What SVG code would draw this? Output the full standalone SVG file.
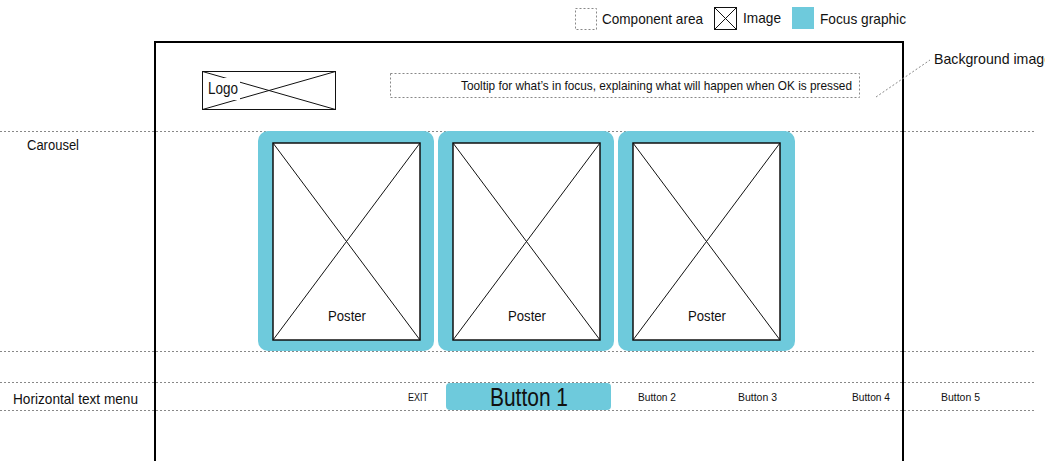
<svg xmlns="http://www.w3.org/2000/svg" width="1045" height="461" viewBox="0 0 1045 461">
<style>
text{font-family:"Liberation Sans",Arial,sans-serif;fill:#111}
.dot{fill:none;stroke:#888;stroke-width:1;stroke-dasharray:2,2}
.focus{fill:#6ECADC}
.img{fill:#fff;stroke:#111;stroke-width:1.5}
.x{stroke:#111;stroke-width:1}
.frame{fill:none;stroke:#000;stroke-width:2}
</style>
<rect x="0" y="0" width="1045" height="461" fill="#fff"/>
<g id="legend">
<rect x="575.5" y="8.5" width="21" height="21" class="dot"/>
<text x="602" y="24" font-size="15" textLength="101" lengthAdjust="spacingAndGlyphs">Component area</text>
<rect x="714.5" y="7.5" width="22" height="22" fill="#fff" stroke="#111" stroke-width="1"/>
<line x1="714.5" y1="7.5" x2="736.5" y2="29.5" class="x"/>
<line x1="736.5" y1="7.5" x2="714.5" y2="29.5" class="x"/>
<text x="743" y="23" font-size="15" textLength="38" lengthAdjust="spacingAndGlyphs">Image</text>
<rect x="792" y="7" width="22" height="22" class="focus"/>
<text x="820" y="24" font-size="15" textLength="86" lengthAdjust="spacingAndGlyphs">Focus graphic</text>
</g>
<g id="guides">
<line x1="0" y1="131.5" x2="1035" y2="131.5" class="dot"/>
<line x1="0" y1="351.5" x2="1035" y2="351.5" class="dot"/>
<line x1="0" y1="382.5" x2="1035" y2="382.5" class="dot"/>
<line x1="0" y1="410.5" x2="1035" y2="410.5" class="dot"/>
<text x="27" y="150" font-size="14" textLength="52" lengthAdjust="spacingAndGlyphs">Carousel</text>
<text x="13" y="404" font-size="15" textLength="125" lengthAdjust="spacingAndGlyphs">Horizontal text menu</text>
</g>
<g id="posters">
<rect x="258" y="131" width="176" height="220" rx="10" class="focus"/>
<rect x="438" y="131" width="176" height="220" rx="10" class="focus"/>
<rect x="618" y="131" width="177" height="220" rx="10" class="focus"/>
<g id="poster1">
<rect x="273" y="143" width="147" height="197" class="img"/>
<line x1="273" y1="143" x2="420" y2="340" class="x"/>
<line x1="420" y1="143" x2="273" y2="340" class="x"/>
<rect x="326" y="305" width="42" height="20" fill="#fff"/>
<text x="347" y="321" font-size="15" text-anchor="middle" textLength="38" lengthAdjust="spacingAndGlyphs">Poster</text>
</g>
<g id="poster2">
<rect x="453" y="143" width="147" height="197" class="img"/>
<line x1="453" y1="143" x2="600" y2="340" class="x"/>
<line x1="600" y1="143" x2="453" y2="340" class="x"/>
<rect x="506" y="305" width="42" height="20" fill="#fff"/>
<text x="527" y="321" font-size="15" text-anchor="middle" textLength="38" lengthAdjust="spacingAndGlyphs">Poster</text>
</g>
<g id="poster3">
<rect x="633" y="143" width="147" height="197" class="img"/>
<line x1="633" y1="143" x2="780" y2="340" class="x"/>
<line x1="780" y1="143" x2="633" y2="340" class="x"/>
<rect x="686" y="305" width="42" height="20" fill="#fff"/>
<text x="707" y="321" font-size="15" text-anchor="middle" textLength="38" lengthAdjust="spacingAndGlyphs">Poster</text>
</g>
</g>
<g id="frame">
<rect x="155" y="42" width="748" height="440" class="frame"/>
</g>
<g id="logo">
<rect x="202.5" y="71.5" width="133" height="38" fill="none" stroke="#111" stroke-width="1"/>
<line x1="202.5" y1="71.5" x2="335.5" y2="109.5" class="x"/>
<line x1="335.5" y1="71.5" x2="202.5" y2="109.5" class="x"/>
<rect x="206" y="78" width="34" height="22" fill="#fff"/>
<text x="208" y="94" font-size="16" textLength="30" lengthAdjust="spacingAndGlyphs">Logo</text>
</g>
<g id="tooltip">
<rect x="390.5" y="73.5" width="469" height="24" class="dot"/>
<text x="852" y="90" font-size="13" text-anchor="end" textLength="391" lengthAdjust="spacingAndGlyphs">Tooltip for what’s in focus, explaining what will happen when OK is pressed</text>
</g>
<g id="background-label">
<text x="934" y="64" font-size="15" textLength="118" lengthAdjust="spacingAndGlyphs">Background image</text>
</g>
<g id="connectors">
<line x1="876" y1="97" x2="930" y2="60" class="dot"/>
</g>
<g id="menu">
<text x="408" y="401" font-size="11" textLength="20" lengthAdjust="spacingAndGlyphs">EXIT</text>
<rect x="446" y="383" width="165" height="27" rx="4" class="focus"/>
<text x="490" y="406" font-size="25" textLength="78" lengthAdjust="spacingAndGlyphs">Button 1</text>
<text x="638" y="401" font-size="11" textLength="38" lengthAdjust="spacingAndGlyphs">Button 2</text>
<text x="738" y="401" font-size="11" textLength="39" lengthAdjust="spacingAndGlyphs">Button 3</text>
<text x="852" y="401" font-size="11" textLength="38" lengthAdjust="spacingAndGlyphs">Button 4</text>
<text x="941" y="401" font-size="11" textLength="39" lengthAdjust="spacingAndGlyphs">Button 5</text>
</g>
</svg>
